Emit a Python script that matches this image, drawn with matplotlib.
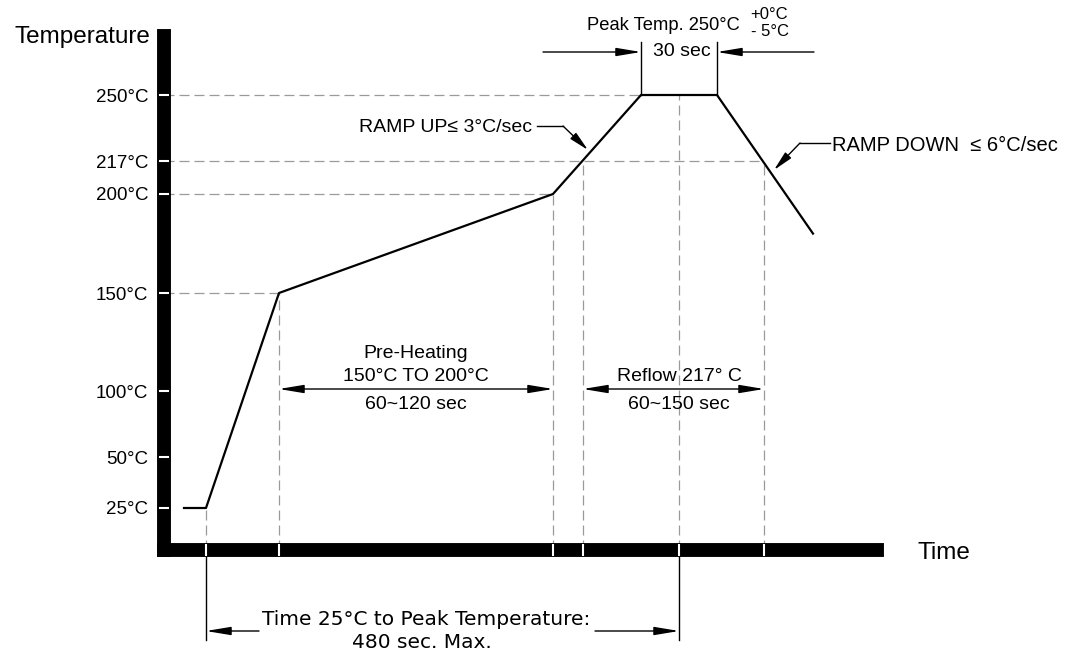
import numpy as np
import matplotlib
matplotlib.use('Agg')
import matplotlib.pyplot as plt
import matplotlib.transforms as mtransforms

plt.rcParams['font.family'] = ['Liberation Sans', 'DejaVu Sans']

# reflow profile corners: time (sec, 0 = leaving 25°C) and temperature (°C)
profile_time = [-22, 0, 73, 347, 435, 511, 607]
profile_temp = [25, 25, 150, 200, 250, 250, 180]

# temperature axis ticks
temp_ticks = [25, 50, 100, 150, 200, 217, 250]
temp_labels = ['25°C', '50°C', '100°C', '150°C', '200°C', '217°C', '250°C']

# dashed guides: horizontal ones run from the axis to where they meet the profile
hguide_temp = [150, 200, 217, 250]
hguide_time = [73, 347, 558, 435]
# vertical ones drop from the profile to the time axis
vguide_time = [0, 73, 347, 377, 473, 558]
vguide_temp = [25, 150, 200, 217, 250, 217]

peak_start, peak_mid, peak_end = 435, 473, 511
preheat_start, preheat_end = 73, 347
reflow_start, reflow_end = 377, 558

# the drawing is not to scale on the temperature axis
knot_t = np.array([-200, 25, 50, 100, 150, 200, 217, 250, 400])
knot_h = np.array([-408, 42, 93, 159, 257, 356, 389, 455, 755])


def fwd(t):
    return np.interp(t, knot_t, knot_h)


def inv(h):
    return np.interp(h, knot_h, knot_t)


W, H = 1069, 654
fig = plt.figure(figsize=(W / 100, H / 100), dpi=100)


def fx(px):
    return px / W


def fy(py):
    return 1 - py / H


ax = fig.add_axes([fx(163.5), fy(550), (877 - 163.5) / W, (550 - 36) / H])
ax.set_yscale('function', functions=(fwd, inv))
ax.set_xlim(-42.5, 671)
ax.set_ylim(inv(0), inv(514))

mix = mtransforms.blended_transform_factory(ax.transData, fig.transFigure)

# thick black axes with white notches
for side in ['top', 'right']:
    ax.spines[side].set_visible(False)
for side in ['left', 'bottom']:
    ax.spines[side].set_linewidth(10)
    ax.spines[side].set_capstyle('projecting')
    ax.spines[side].set_zorder(2.5)
ax.xaxis.set_zorder(3)
ax.yaxis.set_zorder(3)

ax.set_yticks(temp_ticks)
ax.set_yticklabels(temp_labels)
ax.yaxis.set_minor_locator(matplotlib.ticker.NullLocator())
ax.tick_params(axis='y', direction='inout', length=7, width=1.5, color='white',
               labelsize=13.5, pad=7.5)
ax.set_xticks(vguide_time)
ax.set_xticklabels([])
ax.tick_params(axis='x', direction='inout', length=8.5, width=1.5, color='white')

grey = '#9a9a9a'
dash = (0, (8, 4))
for t, e in zip(hguide_temp, hguide_time):
    ax.plot([-42.5, e], [t, t], color=grey, lw=0.9, ls=dash, zorder=1)
for t, e in zip(vguide_time, vguide_temp):
    ax.plot([t, t], [inv(0), e], color=grey, lw=0.9, ls=dash, zorder=1)

ax.plot(profile_time, profile_temp, color='black', lw=1.6, zorder=2)

# axis titles
fig.text(fx(150), fy(43), 'Temperature', ha='right', va='baseline', fontsize=17.5)
fig.text(fx(918), fy(559), 'Time', ha='left', va='baseline', fontsize=17.5)

arrow_kw = dict(color='black', lw=1, shrinkA=0, shrinkB=0)


def dim_arrow(x_from, x_to, py, style='-|>'):
    ax.annotate('', xy=(x_to, fy(py)), xytext=(x_from, fy(py)),
                xycoords=mix, textcoords=mix, annotation_clip=False,
                arrowprops=dict(arrowstyle=style + ',head_length=1.5,head_width=0.25',
                                mutation_scale=10, **arrow_kw))


def vline(t, py0, py1):
    ax.plot([t, t], [fy(py0), fy(py1)], color='black', lw=1, transform=mix,
            clip_on=False)


# peak window
vline(peak_start, 42, 95)
vline(peak_end, 42, 95)
dim_arrow(peak_start - 98, peak_start, 52)
dim_arrow(peak_end + 97, peak_end, 52)
fig.text(fx(740), fy(30), 'Peak Temp. 250°C', ha='right', va='baseline', fontsize=13.2)
fig.text(fx(750), fy(19), '+0°C', ha='left', va='baseline', fontsize=12)
fig.text(fx(751), fy(36), '- 5°C', ha='left', va='baseline', fontsize=12)
ax.text(peak_mid + 3, fy(56), '30 sec', transform=mix, ha='center', va='baseline',
        fontsize=14)

# ramp labels with leaders
fig.add_artist(plt.Line2D([fx(537), fx(563)], [fy(126), fy(126)], color='black', lw=1))
fig.add_artist(plt.Line2D([fx(800), fx(830)], [fy(143), fy(143)], color='black', lw=1))
for (x0, y0), (x1, y1) in [((563, 126), (588, 150)), ((800, 143), (774, 170))]:
    fig.add_artist(matplotlib.patches.FancyArrowPatch(
        (fx(x0), fy(y0)), (fx(x1), fy(y1)), transform=fig.transFigure,
        arrowstyle='-|>,head_length=1.2,head_width=0.25', mutation_scale=10,
        **arrow_kw))
fig.text(fx(532), fy(132), 'RAMP UP≤ 3°C/sec', ha='right', va='baseline', fontsize=14)
fig.text(fx(832), fy(151), 'RAMP DOWN  ≤ 6°C/sec', ha='left', va='baseline', fontsize=14.5)

# pre-heating and reflow windows
pre_mid = (preheat_start + preheat_end) / 2
dim_arrow(preheat_start, preheat_end, 389, '<|-|>')
ax.text(pre_mid, fy(358), 'Pre-Heating', transform=mix, ha='center', va='baseline', fontsize=14)
ax.text(pre_mid, fy(381), '150°C TO 200°C', transform=mix, ha='center', va='baseline', fontsize=14)
ax.text(pre_mid, fy(409), '60~120 sec', transform=mix, ha='center', va='baseline', fontsize=14)
dim_arrow(reflow_start, reflow_end, 389, '<|-|>')
ax.text(peak_mid, fy(381), 'Reflow 217° C', transform=mix, ha='center', va='baseline', fontsize=14)
ax.text(peak_mid, fy(409), '60~150 sec', transform=mix, ha='center', va='baseline', fontsize=14)

# 25°C to peak
vline(0, 557, 640)
vline(peak_mid, 557, 640)
dim_arrow(53, 0, 631)
dim_arrow(389, peak_mid, 631)
ax.text(220, fy(625), 'Time 25°C to Peak Temperature:', transform=mix,
        ha='center', va='baseline', fontsize=14.5, family='DejaVu Sans')
ax.text(216, fy(648), '480 sec. Max.', transform=mix,
        ha='center', va='baseline', fontsize=14.5, family='DejaVu Sans')

fig.savefig('out.png', dpi=100)
